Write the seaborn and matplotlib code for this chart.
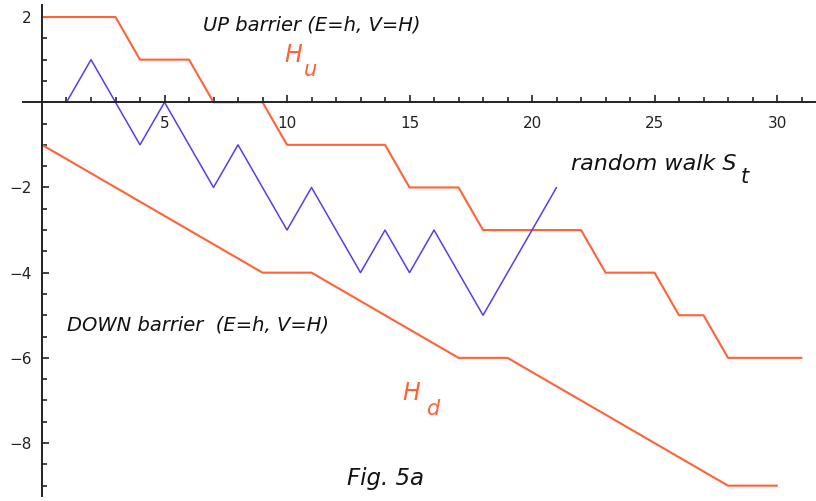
import matplotlib
matplotlib.use("Agg")
import matplotlib.pyplot as plt
from matplotlib.ticker import FixedLocator
import numpy as np
import seaborn as sns

# barrier and walk values
up_t = [0, 3, 4, 6, 7, 9, 10, 14, 15, 17, 18, 22, 23, 25, 26, 27, 28, 31]
up_h = [2, 2, 1, 1, 0, 0, -1, -1, -2, -2, -3, -3, -4, -4, -5, -5, -6, -6]

down_t = [0, 9, 11, 17, 19, 28, 30]
down_h = [-1, -4, -4, -6, -6, -9, -9]

walk_t = list(range(1, 22))
walk_s = [0, 1, 0, -1, 0, -1, -2, -1, -2, -3, -2, -3, -4, -3, -4, -3, -4, -5, -4, -3, -2]

x_major = [5, 10, 15, 20, 25, 30]
y_major = [-8, -6, -4, -2, 2]

orange = "#ff6236"
blue = "#5a3cf0"

sns.set_style("white")
plt.rcParams["font.family"] = ["DejaVu Sans"]

W, H = 816, 501
fig = plt.figure(figsize=(W / 100, H / 100), dpi=100)
ax = fig.add_axes([0, 0, 1, 1])

sns.lineplot(x=up_t, y=up_h, color=orange, lw=1.5, ax=ax, sort=False)
sns.lineplot(x=down_t, y=down_h, color=orange, lw=1.5, ax=ax, sort=False)
sns.lineplot(x=walk_t, y=walk_s, color=blue, lw=1.1, ax=ax, sort=False)

ax.set_xlim(-1.714, 31.59)
ax.set_ylim(-9.36, 2.40)

# axes through the origin, Mathematica style
for s in ["top", "right"]:
    ax.spines[s].set_visible(False)
ax.spines["left"].set_position(("data", 0))
ax.spines["bottom"].set_position(("data", 0))
ax.spines["left"].set_bounds(-9.25, 2.28)
ax.spines["bottom"].set_bounds(-0.78, 31.6)
for s in ["left", "bottom"]:
    ax.spines[s].set_color("#222222")
    ax.spines[s].set_linewidth(1.4)

ax.xaxis.set_major_locator(FixedLocator(x_major))
ax.xaxis.set_minor_locator(FixedLocator(np.arange(1, 32)))
ax.yaxis.set_major_locator(FixedLocator(y_major))
ax.yaxis.set_minor_locator(FixedLocator(np.arange(-9, 2.5, 0.5)))
ax.set_xticklabels([str(v) for v in x_major])
ax.set_yticklabels([str(v).replace("-", "\u2212") for v in y_major])
ax.tick_params(axis="both", which="both", direction="in", color="#222222",
               width=1.2, bottom=True, left=True)
ax.tick_params(axis="both", which="major", length=5, labelsize=11,
               labelcolor="#222222")
ax.tick_params(axis="both", which="minor", length=3.5)
ax.tick_params(axis="x", which="major", pad=10)
ax.tick_params(axis="y", which="major", pad=7.5)
ax.set_xlabel("")
ax.set_ylabel("")


def px_text(x, y, s, size, color="#111111", ha="left"):
    fig.text(x / W, 1 - y / H, s, fontsize=size, color=color, style="italic",
             ha=ha, va="center")


px_text(203, 25, "UP barrier (E=h, V=H)", 14)
px_text(284, 55, "H", 17, orange)
px_text(304, 70, "u", 15, orange)
px_text(571, 164, "random walk S", 16)
px_text(741, 177, "t", 15)
px_text(67, 325, "DOWN barrier  (E=h, V=H)", 14)
px_text(402, 393, "H", 17, orange)
px_text(426, 409, "d", 15, orange)
px_text(347, 479, "Fig. 5a", 16.5)

fig.savefig("out.png", dpi=100)
